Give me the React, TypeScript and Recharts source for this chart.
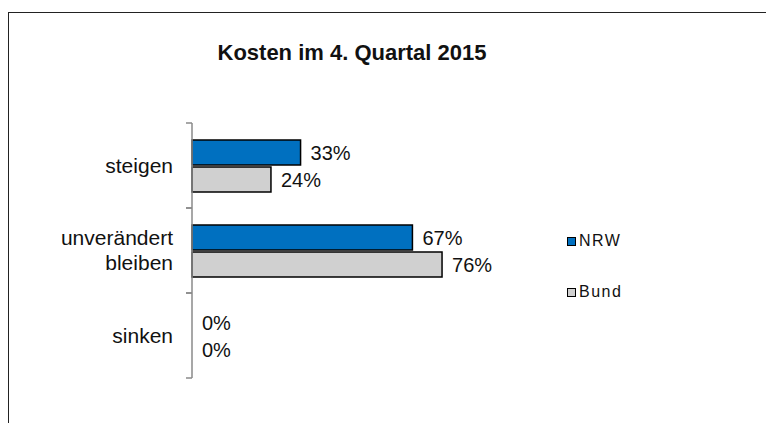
import { BarChart, Bar, XAxis, YAxis, LabelList, Rectangle } from 'recharts';

const categories = ['steigen', 'unverändert bleiben', 'sinken'];
const nrwValues = [33, 67, 0];
const bundValues = [24, 76, 0];

const SERIES = [
  { key: 'nrw', label: 'NRW', color: '#0070C0' },
  { key: 'bund', label: 'Bund', color: '#D0D0D0' },
];

const data = categories.map((name, i) => ({ name, nrw: nrwValues[i], bund: bundValues[i] }));

const FONT = 'Arial, "Liberation Sans", sans-serif';
const AXIS_GREY = '#8a8a8a';

// category label in the middle of the band, tick marks on the band edges (Excel style)
// eslint-disable-next-line @typescript-eslint/no-explicit-any
const CategoryTick = ({ x, y, payload }: any) => {
  const words: string[] = payload.value === 'unverändert bleiben' ? ['unverändert', 'bleiben'] : [payload.value];
  const lineH = 25;
  const start = -((words.length - 1) * lineH) / 2;
  const half = payload.offset ?? 0;
  const axisX = x + 8;
  return (
    <g>
      <line x1={axisX - 6} x2={axisX} y1={y - half} y2={y - half} stroke={AXIS_GREY} strokeWidth={1.5} />
      <line x1={axisX - 6} x2={axisX} y1={y + half} y2={y + half} stroke={AXIS_GREY} strokeWidth={1.5} />
      <text x={x - 11} y={y} textAnchor="end" fontSize={21} fontFamily={FONT} fill="#111">
        {words.map((w, i) => (
          <tspan key={w} x={x - 11} dy={i === 0 ? start + 7 : lineH}>
            {w}
          </tspan>
        ))}
      </text>
    </g>
  );
};

// eslint-disable-next-line @typescript-eslint/no-explicit-any
const barShape = (key: string) => (props: any) =>
  props.payload && props.payload[key] === 0 ? <g /> : <Rectangle {...props} />;

export default function App() {
  return (
    <div style={{ position: 'absolute', left: 0, top: 0, width: 766, height: 423, background: '#fff' }}>
      <div
        style={{
          position: 'absolute',
          left: 8,
          top: 12,
          width: 758,
          height: 411,
          borderLeft: '1.5px solid #222',
          borderTop: '1.5px solid #222',
        }}
      />
      <div
        style={{
          position: 'absolute',
          left: 0,
          top: 40,
          width: 704,
          textAlign: 'center',
          fontFamily: FONT,
          fontWeight: 'bold',
          fontSize: 22,
          color: '#111',
        }}
      >
        Kosten im 4. Quartal 2015
      </div>
      <BarChart
        width={766}
        height={423}
        data={data}
        layout="vertical"
        margin={{ top: 123, right: 245, bottom: 45, left: 12 }}
        barCategoryGap="20%"
        barGap={2}
        style={{ position: 'absolute', left: 0, top: 0 }}
      >
        <XAxis type="number" domain={[0, 100]} hide />
        <YAxis
          type="category"
          dataKey="name"
          width={180}
          axisLine={{ stroke: AXIS_GREY, strokeWidth: 1.5 }}
          tickLine={{ stroke: 'none' }}
          tickSize={6}
          tick={<CategoryTick />}
          interval={0}
        />
        {SERIES.map((s) => (
          <Bar
            key={s.key}
            dataKey={s.key}
            name={s.label}
            fill={s.color}
            stroke="#000"
            strokeWidth={1.5}
            minPointSize={0.01}
            shape={barShape(s.key)}
            isAnimationActive={false}
          >
            <LabelList
              dataKey={s.key}
              position="right"
              offset={10}
              formatter={(v: number) => `${v}%`}
              fontSize={20}
              fontFamily={FONT}
              fill="#111"
            />
          </Bar>
        ))}
      </BarChart>
      <div style={{ position: 'absolute', left: 567, top: 230, fontFamily: FONT, fontSize: 16, color: '#111' }}>
        {SERIES.map((s, i) => (
          <div key={s.key} style={{ display: 'flex', alignItems: 'center', height: 22, marginBottom: i === 0 ? 29 : 0 }}>
            <span
              style={{
                display: 'inline-block',
                width: 7,
                height: 7,
                background: s.color,
                border: '1.5px solid #000',
                marginRight: 3,
              }}
            />
            <span style={{ letterSpacing: 1.5 }}>{s.label}</span>
          </div>
        ))}
      </div>
    </div>
  );
}
